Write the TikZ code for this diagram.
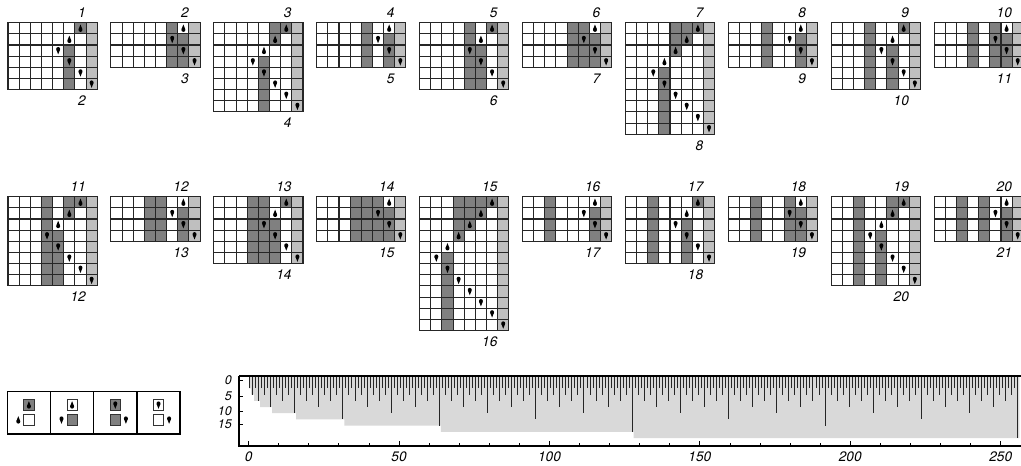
\documentclass[tikz,border=0pt]{standalone}
\usepackage{fontspec}
\setsansfont{TeX Gyre Heros}
\def\cs{11.15}
\tikzset{
  darkcell/.style={fill=black!50},
  lightcell/.style={fill=black!25},
  whitecell/.style={fill=white},
  gridln/.style={draw=black!85, line width=0.8pt, line cap=rect},
  numlabel/.style={font=\sffamily\itshape\fontsize{10.3}{12}\selectfont, inner sep=0pt},
  ylabel/.style={font=\sffamily\itshape\fontsize{9.4}{11}\selectfont, inner sep=0pt},
  headA/.pic={\fill (0,1.6) circle (2.0); \fill (-1.85,0.9) -- (0,-3.8) -- (1.85,0.9) -- cycle;},
  headB/.pic={\fill (0,-1.6) circle (2.0); \fill (-1.85,-0.9) -- (0,3.8) -- (1.85,-0.9) -- cycle;},
  plotgray/.style={fill=black!15},
  plotline/.style={draw=black!85, line width=0.7pt},
  frameln/.style={draw=black, line width=0.9pt},
  legsq/.style={draw=black!80, line width=0.6pt},
}
% #1 = n, #2 = k (trailing ones of n), #3 = left x, #4 = top y
\newcommand\tmblock[4]{%
  \pgfmathtruncatemacro\tmrows{2*#2+4}%
  \pgfmathtruncatemacro\tmnext{#1+1}%
  \pgfmathsetmacro\tmbot{#4+\tmrows*\cs}%
  \fill[lightcell] ({#3+7*\cs},#4) rectangle ({#3+8*\cs},\tmbot);
  \foreach \ro in {1,...,\tmrows}{%
    \foreach \bi in {0,...,6}{%
      \pgfmathtruncatemacro\tmval{ifthenelse(\ro<#2+2, ifthenelse(\bi>\ro-2, mod(floor(#1/2^\bi),2), 0), mod(floor(\tmnext/2^\bi),2))}%
      \ifnum\tmval=1
        \fill[darkcell] ({#3+(6-\bi)*\cs},{#4+(\ro-1)*\cs}) rectangle ({#3+(7-\bi)*\cs},{#4+\ro*\cs});
      \fi
    }%
  }%
  \foreach \ci in {0,...,8}{\draw[gridln] ({#3+\ci*\cs},#4) -- ({#3+\ci*\cs},\tmbot);}%
  \foreach \cj in {0,...,\tmrows}{\draw[gridln] (#3,{#4+\cj*\cs}) -- ({#3+8*\cs},{#4+\cj*\cs});}%
  \foreach \ro in {1,...,\tmrows}{%
    \pgfmathtruncatemacro\tmcol{ifthenelse(\ro<#2+2, 7-\ro, \ro-2*#2+3)}%
    \pgfmathsetmacro\hx{#3+(\tmcol+0.5)*\cs}%
    \pgfmathsetmacro\hy{#4+(\ro-0.5)*\cs}%
    \ifnum\ro<\numexpr#2+2\relax
      \pic at (\hx,\hy) {headA};
    \else
      \pic at (\hx,\hy) {headB};
    \fi
  }%
  \node[numlabel, anchor=base east] (top#1) at ({#3+7.0*\cs},{#4-5}) {#1};
  \node[numlabel, anchor=base east] (bot#1) at ({#3+7.0*\cs},{\tmbot+16}) {\tmnext};
}
\begin{document}
\begin{tikzpicture}[x=0.75pt,y=-0.75pt]
\useasboundingbox (0,0) rectangle (1021,465);
\clip (0,0) rectangle (1021,465);
\fill[white] (0,0) rectangle (1021,465);
% ---- row 1
\tmblock{1}{1}{8}{22.7}
\tmblock{2}{0}{110.9}{22.7}
\tmblock{3}{2}{213.8}{22.7}
\tmblock{4}{0}{316.7}{22.7}
\tmblock{5}{1}{419.6}{22.7}
\tmblock{6}{0}{522.5}{22.7}
\tmblock{7}{3}{625.4}{22.7}
\tmblock{8}{0}{728.3}{22.7}
\tmblock{9}{1}{831.2}{22.7}
\tmblock{10}{0}{934.1}{22.7}
% ---- row 2
\tmblock{11}{2}{8}{196.7}
\tmblock{12}{0}{110.9}{196.7}
\tmblock{13}{1}{213.8}{196.7}
\tmblock{14}{0}{316.7}{196.7}
\tmblock{15}{4}{419.6}{196.7}
\tmblock{16}{0}{522.5}{196.7}
\tmblock{17}{1}{625.4}{196.7}
\tmblock{18}{0}{728.3}{196.7}
\tmblock{19}{2}{831.2}{196.7}
\tmblock{20}{0}{934.1}{196.7}
% ---- legend
\draw[frameln] (7.3,391.7) rectangle (180,434);
\foreach \dx in {50.5,93.7,137}{\draw[frameln] (\dx,391.7) -- (\dx,434);}
\foreach \cx/\tf/\bf/\hs/\bo/\bs in {28.9/darkcell/whitecell/headA/-10.6/headA,
                                     72.1/whitecell/darkcell/headA/-10.6/headB,
                                     115.3/darkcell/darkcell/headB/10.6/headB,
                                     158.5/whitecell/whitecell/headB/10.6/headB}{
  \filldraw[legsq,\tf] (\cx-5.2,399.8) rectangle (\cx+5.2,410.2);
  \filldraw[legsq,\bf] (\cx-5.2,414.8) rectangle (\cx+5.2,425.2);
  \pic at (\cx,405) {\hs};
  \pic at (\cx+\bo,420) {\bs};
}
% ---- chart
\fill[plotgray] (249,376) -- (249,388.4) -- (251,388.4) -- (251,394.6) -- (254,394.6) -- (254,400.8)
  -- (260,400.8) -- (260,407) -- (272,407) -- (272,413.2) -- (296.2,413.2) -- (296.2,419.4)
  -- (344.4,419.4) -- (344.4,425.6) -- (440.8,425.6) -- (440.8,431.8) -- (633.7,431.8)
  -- (633.7,438) -- (1019.4,438) -- (1019.4,376) -- cycle;
\foreach \st/\dd in {1/4,2/6,4/8,8/10,16/12,32/14,64/16,128/18,256/20}{
  \pgfmathtruncatemacro\cnt{256/\st}
  \foreach \ii in {1,...,\cnt}{
    \draw[plotline] ({246.5+3.013*\ii*\st},376) -- ({246.5+3.013*\ii*\st},{376+3.1*\dd});
  }
}
\draw[frameln] (239,376) -- (1021,376);
\draw[frameln] (239,376) -- (239,446) -- (1021,446);
\foreach \u in {0,10,...,250}{
  \draw[line width=0.6pt] ({248.6+3.0085*\u},446) -- ({248.6+3.0085*\u},442.5);
}
\foreach \u in {0,50,...,250}{
  \draw[line width=0.6pt] ({248.6+3.0085*\u},446) -- ({248.6+3.0085*\u},441);
  \node[numlabel] (xl\u) at ({248.6+3.0085*\u},456.5) {\u};
}
\foreach \v/\yy in {0/380.5,5/396.5,10/411.3,15/424}{
  \draw[line width=0.6pt] (239,\yy) -- (242.5,\yy);
  \node[ylabel, anchor=east] (yl\v) at (232,\yy) {\v};
}
\end{tikzpicture}
\end{document}
